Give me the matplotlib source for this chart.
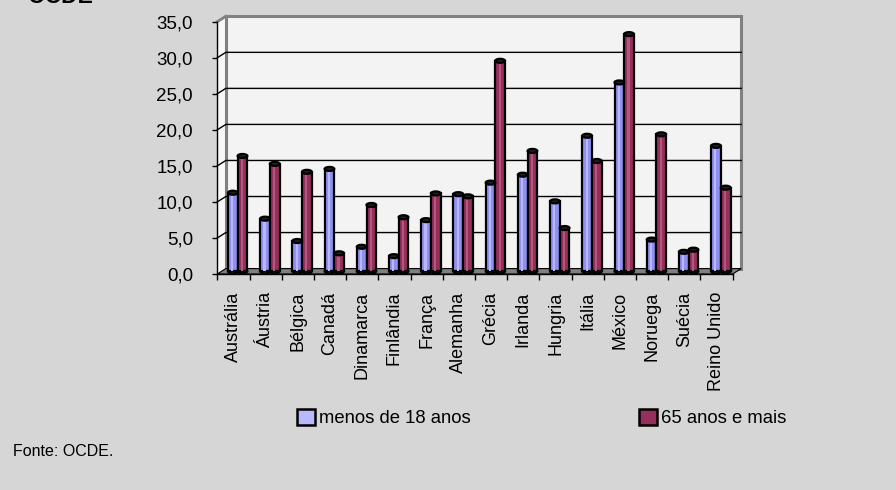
"""
OCDE: poverty rates for children (under 18) and elderly (65+), by country.
Excel-style 3D cylinder column chart recreated with plain matplotlib patches.
"""

import matplotlib
matplotlib.use("Agg")
import matplotlib.pyplot as plt
from matplotlib.patches import Rectangle, Ellipse, Polygon, Patch

plt.rcParams["font.family"] = ["Liberation Sans", "DejaVu Sans"]

# --------------------------------------------------------------------------- #
# Data
# --------------------------------------------------------------------------- #
COUNTRIES = ["Austrália", "Áustria", "Bélgica", "Canadá", "Dinamarca",
             "Finlândia", "França", "Alemanha", "Grécia", "Irlanda",
             "Hungria", "Itália", "México", "Noruega", "Suécia",
             "Reino Unido"]
MENOS_18 = [10.9, 7.3, 4.2, 14.2, 3.4, 2.1, 7.1, 10.7, 12.3, 13.4,
            9.7, 18.8, 26.2, 4.4, 2.7, 17.4]
MAIS_65 = [16.0, 14.9, 13.8, 2.5, 9.2, 7.5, 10.8, 10.4, 29.2, 16.7,
           6.0, 15.3, 32.9, 19.0, 3.0, 11.6]
SERIES_LABELS = ["menos de 18 anos", "65 anos e mais"]
Y_TICKS = [0, 5, 10, 15, 20, 25, 30, 35]

# --------------------------------------------------------------------------- #
# Style
# --------------------------------------------------------------------------- #
W_PX, H_PX, DPI = 896, 490, 100
BG = "#d6d6d6"
WALL = "#f3f3f3"
FRAME = "#808080"
BLUE, BLUE_HI = "#9090f0", "#b8b8ff"
RED, RED_HI = "#952f5c", "#b5567f"
DEPTH_PX = (8.5, 5.4)          # 3D depth offset (right, up) in pixels
BAR_W = 0.3


def px_to_data(ax, dx, dy, nx, ny):
    """Convert a pixel offset to data units for an axes spanning nx by ny."""
    return dx / (ax.bbox.width / nx), dy / (ax.bbox.height / ny)


def main() -> None:
    fig = plt.figure(figsize=(W_PX / DPI, H_PX / DPI), dpi=DPI, facecolor=BG)

    # front plane of the 3D box, in pixels: x 217..733, y 22..274 (from top)
    ax = fig.add_axes([217.3 / W_PX, (H_PX - 274) / H_PX,
                       515.4 / W_PX, 252.3 / H_PX])
    n = len(COUNTRIES)
    ymax = Y_TICKS[-1]
    ax.set_xlim(0, n)
    ax.set_ylim(0, ymax)
    ax.patch.set_visible(False)
    for s in ("top", "right"):
        ax.spines[s].set_visible(False)
    for s in ("left", "bottom"):
        ax.spines[s].set_linewidth(1.0)
        ax.spines[s].set_zorder(6)

    ddx, ddy = px_to_data(ax, *DEPTH_PX, n, ymax)

    # ----- walls and floor ------------------------------------------------ #
    ax.add_patch(Polygon([(0, 0), (0, ymax), (ddx, ymax + ddy), (ddx, ddy)],
                         closed=True, fc="#f8f8f8", ec="none", zorder=0,
                         clip_on=False))
    ax.plot([0, ddx], [ymax, ymax + ddy], color=FRAME, lw=2.0, zorder=0.5,
            clip_on=False)
    ax.add_patch(Rectangle((ddx, ddy), n, ymax, fc=WALL, ec=FRAME, lw=2.2,
                           zorder=0, clip_on=False))
    for v in Y_TICKS[1:-1]:
        ax.plot([0, ddx, n + ddx], [v, v + ddy, v + ddy], color="black",
                lw=1.0, zorder=1, clip_on=False)
    ax.add_patch(Polygon([(0, 0), (n, 0), (n + ddx, ddy), (ddx, ddy)],
                         closed=True, fc=FRAME, ec="black", lw=0.8,
                         zorder=1.5, clip_on=False))

    # ----- cylinders ------------------------------------------------------ #
    ell_h = px_to_data(ax, 0, 4.0, n, ymax)[1]
    for k, (vals, col, hi) in enumerate([(MENOS_18, BLUE, BLUE_HI),
                                         (MAIS_65, RED, RED_HI)]):
        for i, v in enumerate(vals):
            x0 = i + 0.2 + k * BAR_W + ddx / 2
            y0 = ddy / 2
            cx = x0 + BAR_W / 2
            ax.add_patch(Ellipse((cx, y0), BAR_W, ell_h, fc=col, ec="black",
                                 lw=1.6, zorder=1.9, clip_on=False))
            ax.add_patch(Rectangle((x0, y0), BAR_W, v, fc=col, ec="black",
                                   lw=1.6, zorder=2, clip_on=False))
            ax.add_patch(Rectangle((x0 + 0.33 * BAR_W, y0), 0.22 * BAR_W, v,
                                   fc=hi, ec="none", zorder=2.1,
                                   clip_on=False))
            ax.add_patch(Ellipse((cx, y0 + v), BAR_W, ell_h, fc="#202020",
                                 ec="black", lw=1.6, zorder=2.2,
                                 clip_on=False))

    # ----- axes ticks ----------------------------------------------------- #
    ax.set_yticks(Y_TICKS)
    ax.set_yticklabels([f"{v:.1f}".replace(".", ",") for v in Y_TICKS])
    ax.tick_params(axis="y", length=5.5 * 72 / DPI, width=1.0, pad=13.5,
                   labelsize=13.5)
    ax.set_xticks(range(n + 1))
    ax.set_xticklabels([])
    ax.tick_params(axis="x", which="major", length=6 * 72 / DPI, width=1.0)
    ax.set_xticks([i + 0.5 for i in range(n)], minor=True)
    ax.set_xticklabels(COUNTRIES, minor=True, rotation=90, va="top",
                       ha="center")
    ax.tick_params(axis="x", which="minor", length=0, pad=12.7, labelsize=13)

    # ----- legend, source, title ------------------------------------------ #
    handles = [Patch(fc=BLUE_HI, ec="black", lw=1.8),
               Patch(fc=RED, ec="black", lw=1.8)]
    fig.legend(handles, SERIES_LABELS, loc="center left",
               bbox_to_anchor=(297 / W_PX, 1 - 418 / H_PX), ncol=2,
               frameon=False, borderpad=0, borderaxespad=0,
               handlelength=1.0, handleheight=1.0, handletextpad=0.2,
               columnspacing=9.1, fontsize=13.3)
    fig.text(13 / W_PX, 1 - 451 / H_PX, "Fonte: OCDE.", fontsize=11.5,
             va="center")
    # the reference shows this title clipped by the top edge of the picture
    fig.text(27 / W_PX, 1 - 3 / H_PX, "OCDE", fontsize=16.5,
             weight="bold", va="baseline")

    fig.savefig("out.png", dpi=DPI, facecolor=BG)


if __name__ == "__main__":
    main()
